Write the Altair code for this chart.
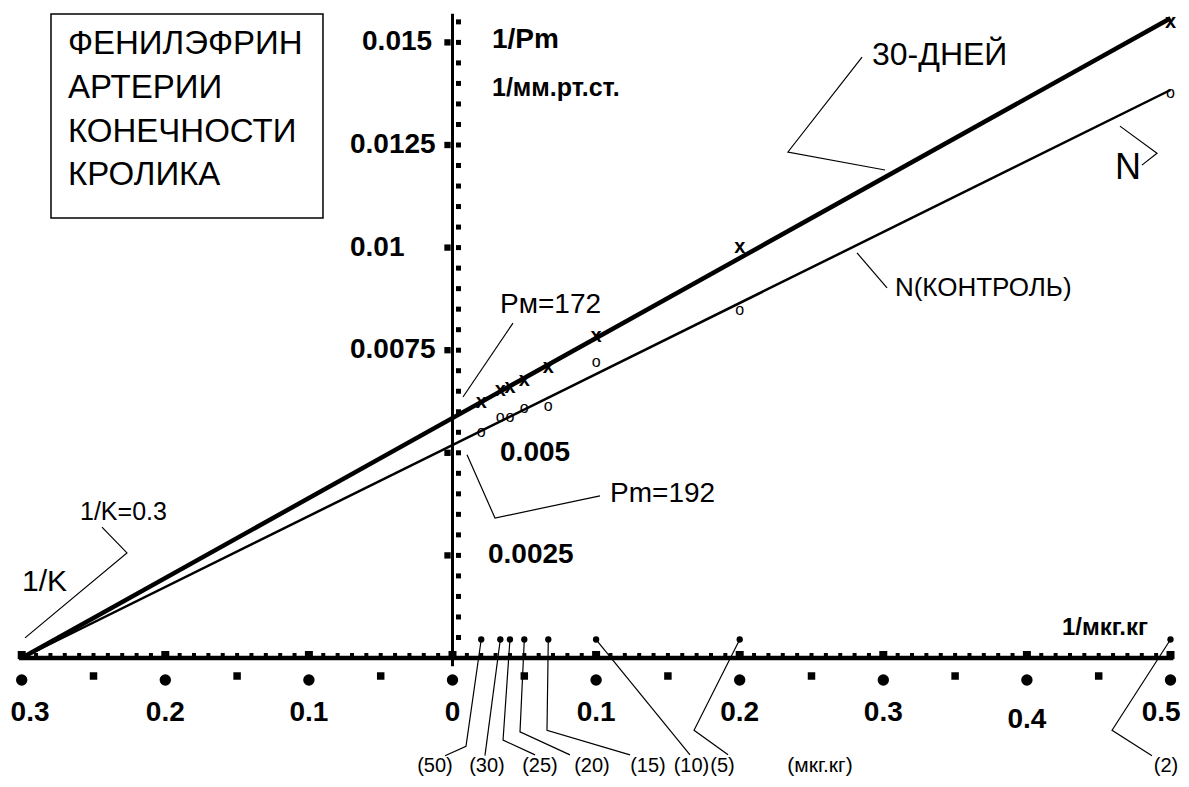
import altair as alt
import pandas as pd

# ---------------- scale frame (data units) ----------------
X_DOMAIN = [-0.30954, 0.50731]
Y_DOMAIN = [-0.0029483, 0.015838]
W, H = 1173, 771

SANS = "Liberation Sans, Arial, sans-serif"

# ---------------- data ----------------
doses = ["(50)", "(30)", "(25)", "(20)", "(15)", "(10)", "(5)", "(2)"]
inv_dose = [0.02, 0.0333, 0.04, 0.05, 0.0667, 0.1, 0.2, 0.5]
y_30days = [0.00624, 0.00653, 0.00660, 0.00677, 0.00709, 0.00785, 0.01001, 0.01550]
y_control = [0.00551, 0.00587, 0.00587, 0.00609, 0.00614, 0.00721, 0.00848, 0.01377]

line_x = [-0.3, 0.5]
line_30days = [0.0, 0.01559]
line_control = [0.0, 0.01384]

x_ticks = [-0.3, -0.2, -0.1, 0.0, 0.1, 0.2, 0.3, 0.4, 0.5]
x_tick_labels = ["0.3", "0.2", "0.1", "0", "0.1", "0.2", "0.3", "0.4", "0.5"]
x_tick_label_x = [-0.2942, -0.2, -0.1, 0.0, 0.1, 0.2, 0.3, 0.4, 0.4935]
x_tick_label_y = [-0.00134, -0.00134, -0.00134, -0.00134, -0.00134, -0.00134, -0.00134, -0.00151, -0.00134]
x_half_ticks = [-0.25, -0.15, -0.05, 0.05, 0.15, 0.25, 0.35, 0.45]
x_minor_ticks = [round(-0.3 + 0.01 * i, 3) for i in range(81)]

y_ticks = [0.015, 0.0125, 0.01, 0.0075, 0.005, 0.0025]
y_tick_labels = ["0.015", "0.0125", "0.01", "0.0075", "0.005", "0.0025"]
y_tick_label_x = [-0.0630, -0.0714, -0.0714, -0.0714, 0.0331, 0.0247]
y_minor_ticks = [round(0.0005 * i, 4) for i in range(1, 32)]

pin_y = 0.00045

box_lines = ["ФЕНИЛЭФРИН", "АРТЕРИИ", "КОНЕЧНОСТИ", "КРОЛИКА"]
box_line_y = [0.01496, 0.01389, 0.01282, 0.01177]
box_x = -0.2678
box_rect = dict(x=-0.2796, x2=-0.0902, y=0.01569, y2=0.01072)

dose_label_x = [-0.0122, 0.0240, 0.0609, 0.0971, 0.1361, 0.1664, 0.1880, 0.4969]
dose_label_y = -0.00263

# leader polylines (data units)
leaders = {
    "L50": [(0.02, pin_y), (0.0094, -0.00215), (-0.0052, -0.00238)],
    "L30": [(0.0333, pin_y), (0.0226, -0.00238)],
    "L25": [(0.04, pin_y), (0.0352, -0.00200), (0.0575, -0.00236)],
    "L20": [(0.05, pin_y), (0.0470, -0.00180), (0.0818, -0.00236)],
    "L15": [(0.0667, pin_y), (0.0658, -0.00176), (0.1236, -0.00236)],
    "L10": [(0.1, pin_y), (0.1654, -0.00236)],
    "L5": [(0.2, pin_y), (0.1682, -0.00176), (0.1919, -0.00236)],
    "L2": [(0.5, pin_y), (0.4593, -0.00176), (0.4871, -0.00238)],
    "Pm172": [(0.0073, 0.00636), (0.0421, 0.00816)],
    "Pm192": [(0.0101, 0.00495), (0.0296, 0.00341), (0.1027, 0.00395)],
    "K": [(-0.2977, 0.00049), (-0.2267, 0.00256), (-0.2441, 0.00319)],
    "D30": [(0.2852, 0.01464), (0.2336, 0.01233), (0.3012, 0.01189)],
    "N": [(0.4648, 0.01296), (0.4906, 0.01230), (0.4801, 0.01201)],
    "NK": [(0.2817, 0.00987), (0.3026, 0.00902)],
}


# ---------------- helpers ----------------
def X(f="x"):
    return alt.X(f"{f}:Q", scale=alt.Scale(domain=X_DOMAIN, nice=False, zero=False), axis=None)


def Y(f="y"):
    return alt.Y(f"{f}:Q", scale=alt.Scale(domain=Y_DOMAIN, nice=False, zero=False), axis=None)


def texts(rows, size, weight="normal", align="left", font=SANS):
    df = pd.DataFrame(rows, columns=["t", "x", "y"])
    return alt.Chart(df).mark_text(
        align=align, baseline="middle", fontSize=size, font=font,
        fontWeight=weight, color="black"
    ).encode(x=X(), y=Y(), text="t:N")


layers = []

# frame box
layers.append(
    alt.Chart(pd.DataFrame([box_rect])).mark_rect(fill="white", stroke="black", strokeWidth=1.5)
    .encode(x=X(), x2=alt.X2("x2"), y=Y(), y2=alt.Y2("y2"))
)

# regression lines
layers.append(
    alt.Chart(pd.DataFrame({"x": line_x, "y": line_control})).mark_line(color="black", strokeWidth=2.5)
    .encode(x=X(), y=Y())
)
layers.append(
    alt.Chart(pd.DataFrame({"x": line_x, "y": line_30days})).mark_line(color="black", strokeWidth=4.5)
    .encode(x=X(), y=Y())
)

# leader lines
lrows = []
for g, pts in leaders.items():
    for i, (lx, ly) in enumerate(pts):
        lrows.append({"g": g, "i": i, "x": lx, "y": ly})
layers.append(
    alt.Chart(pd.DataFrame(lrows)).mark_line(color="black", strokeWidth=1.2)
    .encode(x=X(), y=Y(), detail="g:N", order="i:Q")
)

# y axis
layers.append(
    alt.Chart(pd.DataFrame({"x": [0.0], "y": [-0.0002], "y2": [0.0157]}))
    .mark_rule(color="black", strokeWidth=3)
    .encode(x=X(), y=Y(), y2=alt.Y2("y2"))
)
layers.append(
    alt.Chart(pd.DataFrame({"x": [0.0] * len(y_minor_ticks), "y": y_minor_ticks}))
    .mark_square(color="black", size=25, opacity=1, xOffset=6)
    .encode(x=X(), y=Y())
)
layers.append(
    alt.Chart(pd.DataFrame({"x": [0.0] * len(y_ticks), "y": y_ticks}))
    .mark_square(color="black", size=40, opacity=1, xOffset=-5)
    .encode(x=X(), y=Y())
)

# x axis
layers.append(
    alt.Chart(pd.DataFrame({"x": [-0.302], "x2": [0.502], "y": [0.0]}))
    .mark_rule(color="black", strokeWidth=4.5)
    .encode(x=X(), x2=alt.X2("x2"), y=Y())
)
layers.append(
    alt.Chart(pd.DataFrame({"x": x_minor_ticks, "y": [0.0] * len(x_minor_ticks)}))
    .mark_square(color="black", size=16, opacity=1, yOffset=-3)
    .encode(x=X(), y=Y())
)
layers.append(
    alt.Chart(pd.DataFrame({"x": x_ticks, "y": [0.0] * len(x_ticks)}))
    .mark_square(color="black", size=64, opacity=1, yOffset=-3)
    .encode(x=X(), y=Y())
)
layers.append(
    alt.Chart(pd.DataFrame({"x": x_ticks, "y": [0.0] * len(x_ticks)}))
    .mark_circle(color="black", size=130, opacity=1, yOffset=22)
    .encode(x=X(), y=Y())
)
layers.append(
    alt.Chart(pd.DataFrame({"x": x_half_ticks, "y": [0.0] * len(x_half_ticks)}))
    .mark_square(color="black", size=56, opacity=1, yOffset=18)
    .encode(x=X(), y=Y())
)

# dose pins
layers.append(
    alt.Chart(pd.DataFrame({"x": inv_dose, "y": [pin_y] * len(inv_dose)}))
    .mark_circle(color="black", size=40, opacity=1)
    .encode(x=X(), y=Y())
)

# data markers
layers.append(texts([("o", a, b) for a, b in zip(inv_dose, y_control)], 16, "normal", "center"))
layers.append(texts([("x", a, b) for a, b in zip(inv_dose, y_30days)], 20, "bold", "center"))

# tick labels
layers.append(texts([(t, a, b) for t, a, b in zip(x_tick_labels, x_tick_label_x, x_tick_label_y)], 28, "bold", "center"))
layers.append(texts([(t, a, b) for t, a, b in zip(y_tick_labels, y_tick_label_x, y_ticks)], 28, "bold"))

# dose labels
layers.append(texts([(t, a, dose_label_y) for t, a in zip(doses, dose_label_x)], 20, "normal", "center"))
layers.append(texts([("(мкг.кг)", 0.2559, dose_label_y)], 21, "normal", "center"))

# box text
layers.append(texts([(t, box_x, b) for t, b in zip(box_lines, box_line_y)], 33, "normal"))

# annotations
layers.append(texts([("Pм=172", 0.0331, 0.0086), ("Pm=192", 0.1097, 0.0040)], 28, "normal"))
layers.append(texts([("1/K=0.3", -0.2594, 0.00356)], 25, "normal"))
layers.append(texts([("1/K", -0.2998, 0.00185)], 30, "normal"))
layers.append(texts([("30-ДНЕЙ", 0.2921, 0.01469)], 32, "normal"))
layers.append(texts([("N", 0.4613, 0.01194)], 36, "normal"))
layers.append(texts([("N(КОНТРОЛЬ)", 0.3081, 0.00902)], 26, "normal"))
layers.append(texts([("1/Pm", 0.0275, 0.01506)], 28, "bold"))
layers.append(texts([("1/мм.рт.ст.", 0.0275, 0.01389)], 25, "bold"))
layers.append(texts([("1/мкг.кг", 0.4244, 0.00073)], 24, "bold"))

chart = (
    alt.layer(*layers)
    .properties(width=W, height=H, autosize=alt.AutoSizeParams(type="none"), padding=0, background="white")
    .configure_view(stroke=None)
)

chart.save("out.html", embed_options={"renderer": "svg", "actions": False})
